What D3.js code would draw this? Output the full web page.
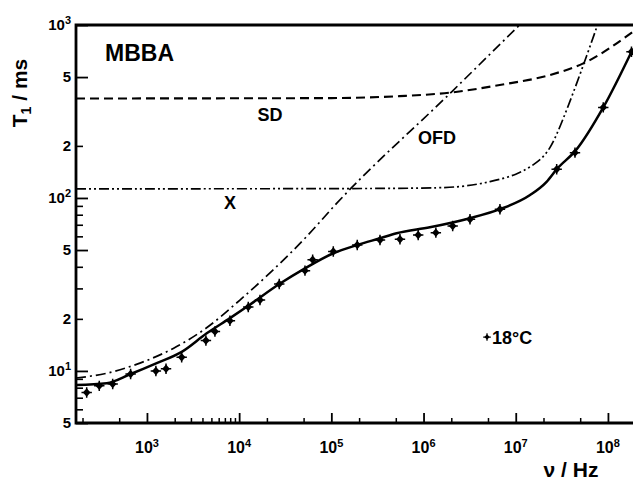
<!DOCTYPE html>
<html>
<head>
<meta charset="utf-8">
<script src="https://cdn.jsdelivr.net/npm/d3@7"></script>
<style>
  body { margin: 0; background: #fff; }
  text { font-family: "Liberation Sans", Arial, sans-serif; font-weight: bold; fill: #000; }
</style>
</head>
<body>
<div id="chart"></div>
<script>
//////////////////////////// data /////////////////////////////////////////

// measured T1 (ms) vs Larmor frequency (Hz), +18 °C
const pointFreq = [222, 304, 425, 665, 1250, 1610, 2380, 4360, 5460, 7940, 12560, 16830, 27230,
  51760, 62700, 1.05e5, 1.91e5, 3.37e5, 5.55e5, 8.75e5, 1.36e6, 2.07e6, 3.19e6, 6.74e6,
  2.78e7, 4.39e7, 8.9e7, 1.8e8];
const pointT1 = [7.5, 8.2, 8.4, 9.6, 10.0, 10.3, 12.0, 15.0, 16.9, 19.5, 23.4, 25.7, 31.8,
  38.0, 43.9, 49.0, 53.5, 57.2, 57.7, 61.1, 63.0, 68.9, 75.3, 86.1,
  146.6, 182.8, 334, 701];

// total fit (solid)
const fitFreq = [170, 366, 666, 1276, 2384, 4450, 7960, 12570, 27250, 51760, 1.05e5, 1.91e5,
  3.37e5, 5.11e5, 1.17e6, 3.19e6, 6.75e6, 1.43e7, 2.16e7, 2.78e7, 4.5e7, 8.9e7, 1.87e8];
const fitT1 = [8.3, 8.5, 9.6, 11.1, 12.9, 16.5, 20.2, 23.8, 31.8, 39.2, 47.9, 53.5,
  58.5, 62.5, 67.7, 76.4, 86.1, 104, 124, 146.6, 189, 334, 730];

// SD contribution (dashed)
const sdFreq = [170, 1e5, 5.5e5, 1.9e6, 6.7e6, 2.35e7, 5.4e7, 1.87e8];
const sdT1 = [376, 378, 388, 406, 450, 514, 600, 915];

// OFD contribution (dash-dot)
const ofdFreq = [170, 366, 839, 1930, 4400, 10200, 23400, 53700, 1.14e5, 2.02e6, 1.1e7];
const ofdT1 = [9.1, 9.7, 11.1, 13.5, 17.7, 25.7, 38.4, 59.7, 93, 411, 1000];

// X contribution (dash-dot-dot)
const xFreq = [170, 1e6, 2.68e6, 5.26e6, 1.03e7, 1.7e7, 2.36e7, 3.18e7, 4.4e7, 5.93e7, 7.7e7, 9e7];
const xT1 = [113, 113, 115.8, 123.7, 135.8, 159, 189, 275, 432, 671, 1000, 1250];

// ticks
const yMajorTicks = [5, 10, 50, 100, 500, 1000];
const yMinorTicks = [6, 7, 8, 9, 20, 30, 40, 60, 70, 80, 90, 200];
const yLabelTicks = [5, 10, 20, 50, 100, 200, 500, 1000];
const xMajorTicks = [1e3, 1e4, 1e5, 1e6, 1e7, 1e8];
const xMinorTicks = [200, 500, 2e3, 3e3, 4e3, 5e3, 6e3, 7e3, 8e3, 9e3, 2e4, 5e4,
  2e5, 5e5, 2e6, 5e6, 2e7, 5e7];

//////////////////////////// sizes ///////////////////////////////////////

const width = 633;
const height = 482;
const plot = { left: 76, top: 25, right: 633, bottom: 423 };

const svg = d3.select("#chart").append("svg")
  .attr("width", width)
  .attr("height", height);

svg.append("rect").attr("width", width).attr("height", height).attr("fill", "#fff");

//////////////////////////// scales ///////////////////////////////////////

const xScale = d3.scaleLog().domain([170, 1.87e8]).range([plot.left, plot.right]);
const yScale = d3.scaleLog().domain([5, 1000]).range([plot.bottom, plot.top]);

svg.append("clipPath").attr("id", "clip")
  .append("rect")
  .attr("x", plot.left).attr("y", plot.top)
  .attr("width", plot.right - plot.left).attr("height", plot.bottom - plot.top);

//////////////////////////// axes /////////////////////////////////////////

const supLabel = (sel, v) => {
  const e = Math.round(Math.log10(v));
  if (Math.abs(Math.pow(10, e) - v) < 1e-6 * v) {
    sel.text("10");
    sel.append("tspan").attr("dy", -6).attr("font-size", 11).text(e);
  } else {
    sel.text(String(v).charAt(0));
  }
};

// y minor
svg.append("g")
  .attr("transform", `translate(${plot.left},0)`)
  .call(d3.axisLeft(yScale).tickValues(yMinorTicks).tickSize(-7).tickFormat(""))
  .call((g) => g.select(".domain").remove())
  .call((g) => g.selectAll("line").attr("stroke", "#000").attr("stroke-width", 1.6));

// y major
svg.append("g")
  .attr("transform", `translate(${plot.left},0)`)
  .call(d3.axisLeft(yScale).tickValues(yMajorTicks).tickSize(-12).tickFormat(""))
  .call((g) => g.select(".domain").remove())
  .call((g) => g.selectAll("line").attr("stroke", "#000").attr("stroke-width", 1.8));

// y labels
svg.append("g")
  .selectAll("text")
  .data(yLabelTicks)
  .join("text")
  .attr("x", plot.left - 5)
  .attr("y", (d) => yScale(d) + 5)
  .attr("text-anchor", "end")
  .attr("font-size", 15)
  .each(function (d) { supLabel(d3.select(this), d); });

// x minor
svg.append("g")
  .attr("transform", `translate(0,${plot.bottom})`)
  .call(d3.axisBottom(xScale).tickValues(xMinorTicks).tickSize(-5).tickFormat(""))
  .call((g) => g.select(".domain").remove())
  .call((g) => g.selectAll("line").attr("stroke", "#000").attr("stroke-width", 1.5));

// x major
svg.append("g")
  .attr("transform", `translate(0,${plot.bottom})`)
  .call(d3.axisBottom(xScale).tickValues(xMajorTicks).tickSize(-10).tickFormat(""))
  .call((g) => g.select(".domain").remove())
  .call((g) => g.selectAll("line").attr("stroke", "#000").attr("stroke-width", 1.8));

// x labels
svg.append("g")
  .selectAll("text")
  .data(xMajorTicks)
  .join("text")
  .attr("x", (d) => xScale(d))
  .attr("y", plot.bottom + 30)
  .attr("text-anchor", "middle")
  .attr("font-size", 16)
  .each(function (d) { supLabel(d3.select(this), d); });

// frame (no right edge, plot runs off the page)
svg.append("path")
  .attr("d", `M${plot.right},${plot.top}H${plot.left}V${plot.bottom}H${plot.right}`)
  .attr("fill", "none")
  .attr("stroke", "#000")
  .attr("stroke-width", 2.8);

// axis titles
const yTitle = svg.append("text")
  .attr("transform", `translate(27,93) rotate(-90)`)
  .attr("text-anchor", "middle")
  .attr("font-size", 21);
yTitle.append("tspan").text("T");
yTitle.append("tspan").attr("dy", 4).attr("font-size", 14).text("1");
yTitle.append("tspan").attr("dy", -4).text(" / ms");

svg.append("text")
  .attr("x", 571)
  .attr("y", 477)
  .attr("text-anchor", "middle")
  .attr("font-size", 21)
  .text("\u03bd / Hz");

//////////////////////////// curves ///////////////////////////////////////

const line = d3.line()
  .x((d) => xScale(d[0]))
  .y((d) => yScale(d[1]))
  .curve(d3.curveMonotoneX);

// X curve bends sharply, smooth it a bit more
const smoothLine = d3.line()
  .x((d) => xScale(d[0]))
  .y((d) => yScale(d[1]))
  .curve(d3.curveBasis);

const curves = [
  { f: sdFreq, t: sdT1, dash: "9,5", w: 2.1, gen: line },
  { f: ofdFreq, t: ofdT1, dash: "10,4,2,4", w: 1.7, gen: line },
  { f: xFreq, t: xT1, dash: "10,3,2,3,2,3", w: 1.7, gen: smoothLine },
  { f: fitFreq, t: fitT1, dash: null, w: 2.5, gen: line }
];

const curveG = svg.append("g").attr("clip-path", "url(#clip)");
curveG.selectAll("path")
  .data(curves)
  .join("path")
  .attr("d", (c) => c.gen(d3.zip(c.f, c.t)))
  .attr("fill", "none")
  .attr("stroke", "#000")
  .attr("stroke-width", (c) => c.w)
  .attr("stroke-dasharray", (c) => c.dash);

//////////////////////////// points ///////////////////////////////////////

const marker = "M0,-4.2L3.8,0L0,4.2L-3.8,0Z";
const arms = "M-5.2,0H5.2M0,-5.2V5.2";

const pts = svg.append("g")
  .selectAll("g")
  .data(d3.zip(pointFreq, pointT1))
  .join("g")
  .attr("transform", (d) => `translate(${xScale(d[0])},${yScale(d[1])})`);
pts.append("path").attr("d", marker).attr("fill", "#000");
pts.append("path").attr("d", arms).attr("stroke", "#000").attr("stroke-width", 1.5);

//////////////////////////// labels ///////////////////////////////////////

svg.append("text")
  .attr("x", xScale(351)).attr("y", yScale(620))
  .attr("font-size", 23)
  .text("MBBA");

const curveLabels = [
  { text: "SD", f: 21600, t: 302 },
  { text: "OFD", f: 1.4e6, t: 224 },
  { text: "X", f: 7960, t: 93.6 }
];
svg.append("g")
  .selectAll("text")
  .data(curveLabels)
  .join("text")
  .attr("x", (d) => xScale(d.f))
  .attr("y", (d) => yScale(d.t))
  .attr("dy", "0.36em")
  .attr("text-anchor", "middle")
  .attr("font-size", 18)
  .text((d) => d.text);

// temperature legend
const legendPos = [4.88e6, 15.7];
const legend = svg.append("g")
  .attr("transform", `translate(${xScale(legendPos[0])},${yScale(legendPos[1])})`);
legend.append("path").attr("d", "M0,-2.8L2.6,0L0,2.8L-2.6,0Z").attr("fill", "#000");
legend.append("path").attr("d", "M-3.8,0H3.8M0,-3.8V3.8").attr("stroke", "#000").attr("stroke-width", 1.2);
legend.append("text")
  .attr("x", 5)
  .attr("dy", "0.36em")
  .attr("font-size", 18)
  .text("18\u00b0C");
</script>
</body>
</html>
